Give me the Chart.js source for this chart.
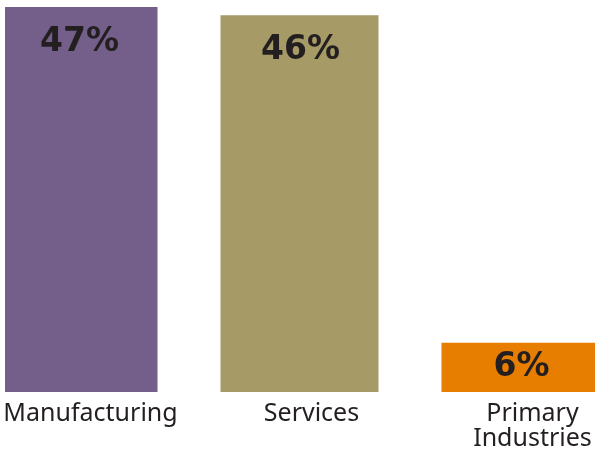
<!DOCTYPE html>
<html>
<head>
<meta charset="utf-8">
<script src="https://cdn.jsdelivr.net/npm/chart.js@4"></script>
<style>
  html, body { margin:0; padding:0; background:#fff; overflow:hidden; width:595px; height:454px; }
  #clip { position:absolute; left:5px; top:0; width:590px; height:454px; overflow:hidden; }
  #wrap { position:absolute; left:-37px; top:0; width:663px; height:454px; }
</style>
</head>
<body>
<div id="clip"><div id="wrap"><canvas id="c" width="663" height="454"></canvas></div></div>
<script>
const categories = [["Manufacturing"], ["Services"], ["Primary", "Industries"]];
const shares = [47, 46, 6];
const barColors = ["#745E8A", "#A69A66", "#E87E00"];

const valueLabels = {
  id: 'valueLabels',
  afterDatasetsDraw(chart) {
    const ctx = chart.ctx;
    const meta = chart.getDatasetMeta(0);
    ctx.save();
    ctx.font = 'bold 33px "DejaVu Sans"';
    ctx.fillStyle = '#231F20';
    ctx.textAlign = 'center';
    ctx.textBaseline = 'middle';
    meta.data.forEach((bar, i) => {
      const y = Math.min(bar.y + 35, (bar.y + bar.base) / 2);
      ctx.fillText(shares[i] + '%', bar.x + 1, y);
    });
    ctx.restore();
  }
};

new Chart(document.getElementById('c'), {
  type: 'bar',
  data: {
    labels: categories,
    datasets: [{
      data: shares,
      backgroundColor: barColors,
      borderWidth: 0,
      barPercentage: 0.715,
      categoryPercentage: 1
    }]
  },
  options: {
    responsive: false,
    animation: false,
    devicePixelRatio: 1,
    layout: { padding: 0 },
    plugins: { legend: { display: false }, tooltip: { enabled: false } },
    scales: {
      x: {
        offset: true,
        grid: { display: false },
        border: { display: false },
        ticks: {
          color: '#231F20',
          font: { family: '"Noto Sans"', size: 25, lineHeight: 1.0 },
          padding: 1,
          labelOffset: 12,
          maxRotation: 0,
          autoSkip: false
        },
        afterFit(scale) { scale.height = 62; }
      },
      y: {
        display: false,
        min: 0,
        max: 47.85
      }
    }
  },
  plugins: [valueLabels]
});
</script>
</body>
</html>
